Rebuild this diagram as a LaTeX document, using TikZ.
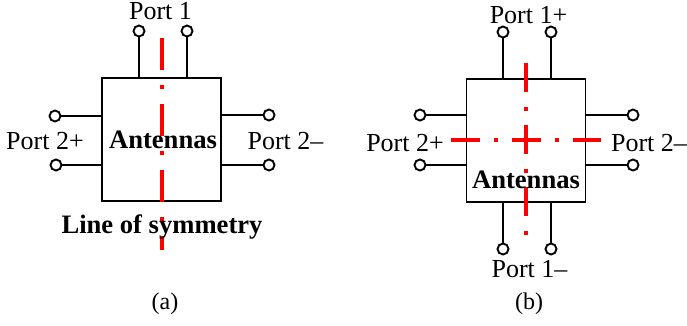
\documentclass[tikz,border=0pt]{standalone}
\usepackage{fontspec}
\setmainfont{Liberation Serif}
\usetikzlibrary{positioning}
\tikzstyle{port}=[circle,fill=white,draw=black,line width=1.9pt,minimum size=11pt,inner sep=0pt]
\tikzstyle{antennabox}=[draw=black,line width=1.9pt,minimum width=119pt,minimum height=123pt,inner sep=0pt]
\tikzstyle{lead} = [draw=black,line width=1.8pt]
\tikzstyle{symmetry} = [draw=red,line width=4pt]
\tikzstyle{weight} = [inner sep=0pt,font=\fontsize{26}{26}\selectfont]
\tikzstyle{caption} = [inner sep=0pt,font=\fontsize{24}{24}\selectfont]
\tikzstyle{boldlabel} = [inner sep=0pt,font=\fontsize{26.6}{26.6}\selectfont\bfseries]

\begin{document}
\begin{tikzpicture}[x=1pt,y=-1pt]
    \useasboundingbox (0,0) rectangle (687,325);
    % First we draw the two boxes
    \node[antennabox] (BoxA) at (161.5,139.5) {};
    \node[antennabox] (BoxB) at (526,140.5) {};

    % Terminals of picture (a)
    \foreach \pos/\name in {{(139,31)/AT1}, {(187,31)/AT2}, {(55,116)/AL1}, {(56,165)/AL2}, {(269,115)/AR1}, {(269,165)/AR2}}
        \node[port] (\name) at \pos {};
    % Terminals of picture (b)
    \foreach \pos/\name in {{(503,32)/BT1}, {(551,32)/BT2}, {(420,115)/BL1}, {(420,165)/BL2}, {(633,115)/BR1}, {(633,165)/BR2}, {(503,249)/BB1}, {(551,249)/BB2}}
        \node[port] (\name) at \pos {};

    % Connect terminals with the boxes
    \foreach \source/\side in {AT1/north, AT2/north}
        \path[lead] (\source) -- (BoxA.\side -| \source);
    \foreach \source/\side in {AL1/west, AL2/west, AR1/east, AR2/east}
        \path[lead] (\source) -- (BoxA.\side |- \source);
    \foreach \source/\side in {BT1/north, BT2/north, BB1/south, BB2/south}
        \path[lead] (\source) -- (BoxB.\side -| \source);
    \foreach \source/\side in {BL1/west, BL2/west, BR1/east, BR2/east}
        \path[lead] (\source) -- (BoxB.\side |- \source);

    % Lines of symmetry
    \coordinate (SymATop) at (161.5,38);
    \coordinate (SymABot) at (161.5,250);
    \coordinate (SymBTop) at (526,63);
    \coordinate (SymBBot) at (526,235);
    \coordinate (SymBLeft) at (451,140);
    \coordinate (SymBRight) at (601,140);
    \path[symmetry,dash pattern=on 32pt off 15pt on 4pt off 15pt] (SymATop) -- (SymABot);
    \path[symmetry,dash pattern=on 29pt off 14.5pt on 4pt off 14.5pt] (SymBTop) -- (SymBBot);
    \path[symmetry,dash pattern=on 29pt off 14pt on 4pt off 14pt] (SymBLeft) -- (SymBRight);

    % Labels
    \node[weight] (PortAT) at (160.5,11) {Port 1};
    \node[weight] (PortAL) at (45,141) {Port 2+};
    \node[weight] (PortAR) at (285.5,141) {Port 2–};
    \node[boldlabel] (NameA) at (163,140) {Antennas};
    \node[boldlabel] (LineA) at (162,227) {Line of symmetry};
    \node[caption] (CapA) at (165,304) {(a)};

    \node[weight] (PortBT) at (528.5,15) {Port 1+};
    \node[weight] (PortBL) at (405,143) {Port 2+};
    \node[weight] (PortBR) at (649,143) {Port 2–};
    \node[boldlabel] (NameB) at (526,180) {Antennas};
    \node[weight] (PortBB) at (529.5,269) {Port 1–};
    \node[caption] (CapB) at (529,304) {(b)};
\end{tikzpicture}
\end{document}
